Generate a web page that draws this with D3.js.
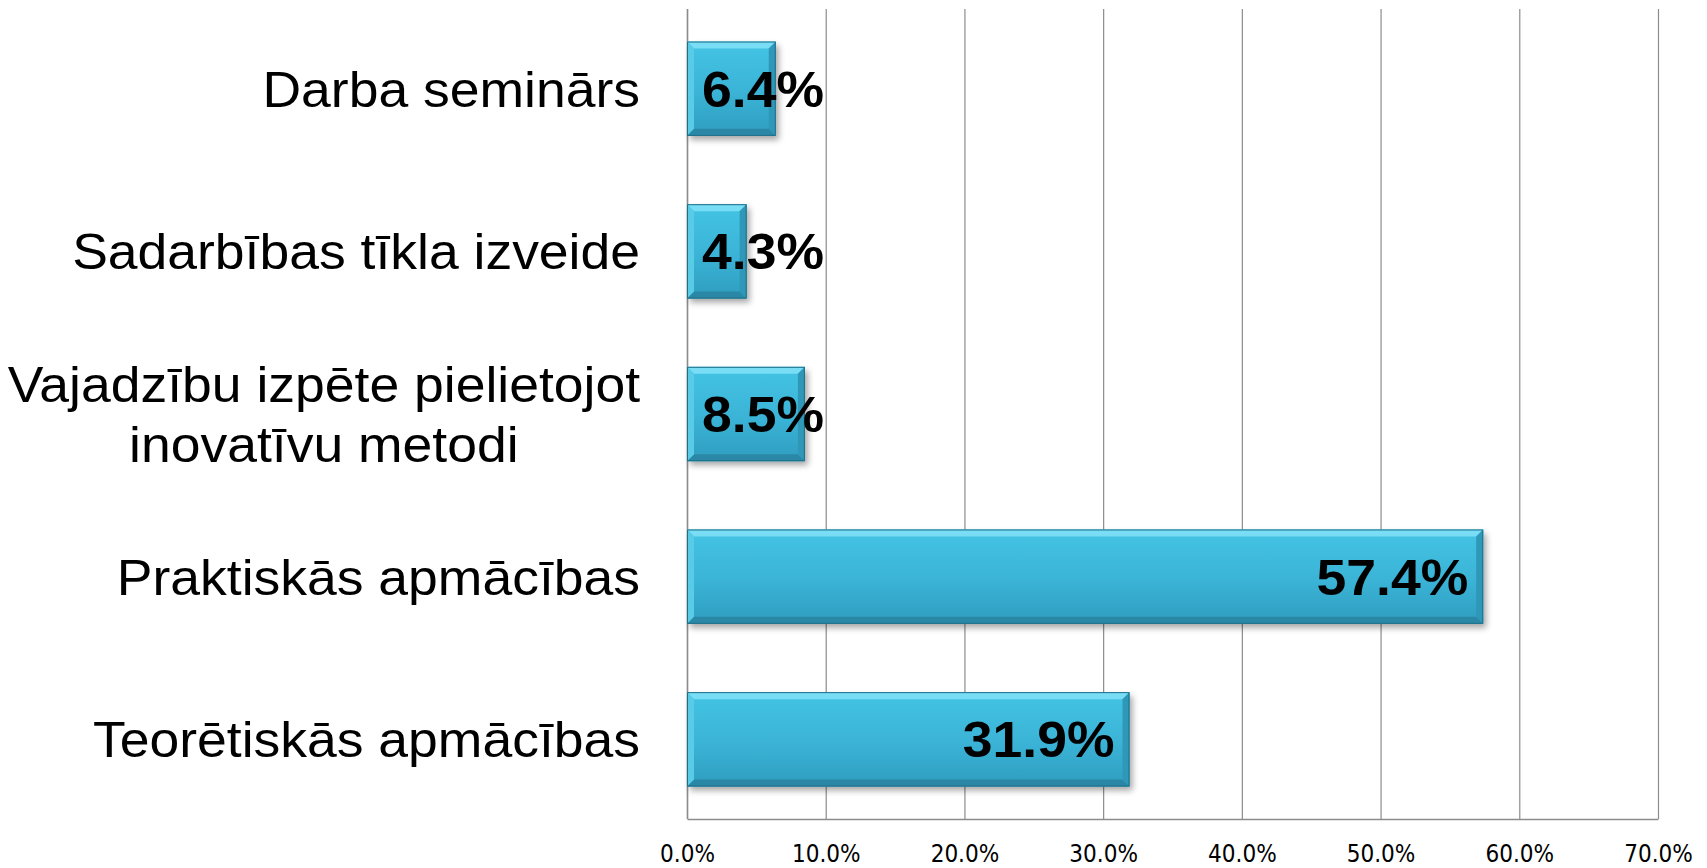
<!DOCTYPE html>
<html>
<head>
<meta charset="utf-8">
<script src="https://cdn.jsdelivr.net/npm/d3@7"></script>
<style>
	html, body { margin: 0; padding: 0; background: #fff; }
	svg { display: block; }
</style>
</head>
<body>
<div id="chart"></div>
<script>
	// data, top to bottom
	const categories = [
		['Darba seminārs'],
		['Sadarbības tīkla izveide'],
		['Vajadzību izpēte pielietojot', 'inovatīvu metodi'],
		['Praktiskās apmācības'],
		['Teorētiskās apmācības'],
	];
	const values = [6.4, 4.3, 8.5, 57.4, 31.9];
	const tickValues = [0, 10, 20, 30, 40, 50, 60, 70];

	const width = 1707;
	const height = 868;
	const margin = { top: 9, right: 49, bottom: 49, left: 687 };
	const innerW = width - margin.left - margin.right;
	const innerH = height - margin.top - margin.bottom;

	const svg = d3.select('#chart').append('svg')
		.attr('width', width)
		.attr('height', height);

	const defs = svg.append('defs');
	const grad = defs.append('linearGradient')
		.attr('id', 'barGrad')
		.attr('x1', 0).attr('y1', 0).attr('x2', 0).attr('y2', 1);
	grad.append('stop').attr('offset', '0%').attr('stop-color', '#44c4e4');
	grad.append('stop').attr('offset', '55%').attr('stop-color', '#3ab3d6');
	grad.append('stop').attr('offset', '100%').attr('stop-color', '#2f9dbf');

	const shadow = defs.append('filter')
		.attr('id', 'shadow')
		.attr('x', '-10%').attr('y', '-20%')
		.attr('width', '130%').attr('height', '160%');
	shadow.append('feGaussianBlur').attr('in', 'SourceAlpha').attr('stdDeviation', 3);
	shadow.append('feOffset').attr('dx', 3).attr('dy', 4).attr('result', 'blur');
	shadow.append('feComponentTransfer').append('feFuncA').attr('type', 'linear').attr('slope', 0.35);
	const merge = shadow.append('feMerge');
	merge.append('feMergeNode');
	merge.append('feMergeNode').attr('in', 'SourceGraphic');

	const chart = svg.append('g')
		.attr('transform', `translate(${margin.left}, ${margin.top})`);

	// scales
	const x = d3.scaleLinear()
		.domain([0, 70])
		.range([0, innerW]);
	const y = d3.scaleBand()
		.domain(d3.range(values.length))
		.range([0, innerH])
		.paddingInner(0.42)
		.paddingOuter(0.2);

	// gridlines
	chart.append('g')
		.selectAll('line')
		.data(tickValues)
		.enter().append('line')
			.attr('x1', d => x(d) + 0.5)
			.attr('x2', d => x(d) + 0.5)
			.attr('y1', 0)
			.attr('y2', innerH)
			.style('stroke', '#8c8c8c')
			.style('stroke-width', 1.2);

	// bottom axis
	const xAxis = chart.append('g')
		.attr('transform', `translate(0, ${innerH})`)
		.call(d3.axisBottom(x)
			.tickValues(tickValues)
			.tickSize(0)
			.tickPadding(26)
			.tickFormat(d => d.toFixed(1) + '%'));
	xAxis.select('.domain').style('stroke', '#8c8c8c').style('stroke-width', 1.5);
	xAxis.selectAll('text')
		.style('font-family', '"Liberation Sans Narrow", "DejaVu Sans Condensed", Arial, sans-serif')
		.style('font-size', '24px')
		.style('fill', '#000');

	// left axis line
	chart.append('line')
		.attr('x1', 0.5).attr('x2', 0.5)
		.attr('y1', 0).attr('y2', innerH)
		.style('stroke', '#8c8c8c')
		.style('stroke-width', 1.5);

	// bars
	const bev = 7;
	const h = y.bandwidth();
	const bar = chart.append('g')
		.selectAll('g')
		.data(values)
		.enter().append('g')
			.attr('transform', (d, i) => `translate(0, ${y(i)})`);

	bar.append('rect')
		.attr('x', 0)
		.attr('y', 0)
		.attr('width', d => x(d))
		.attr('height', h)
		.style('fill', 'url(#barGrad)')
		.style('filter', 'url(#shadow)');
	// bevels
	bar.append('path') // top
		.attr('d', d => `M0,0 L${x(d)},0 L${x(d) - bev},${bev} L${bev},${bev} Z`)
		.style('fill', '#7ee0f6')
		.style('opacity', 0.9);
	bar.append('path') // bottom
		.attr('d', d => `M0,${h} L${x(d)},${h} L${x(d) - bev},${h - bev} L${bev},${h - bev} Z`)
		.style('fill', '#2a88a6');
	bar.append('path') // left
		.attr('d', `M0,0 L${bev},${bev} L${bev},${h - bev} L0,${h} Z`)
		.style('fill', '#5acbe6');
	bar.append('path') // right
		.attr('d', d => `M${x(d)},0 L${x(d) - bev},${bev} L${x(d) - bev},${h - bev} L${x(d)},${h} Z`)
		.style('fill', '#2f97b7');
	bar.append('rect')
		.attr('x', 0.5)
		.attr('y', 0.5)
		.attr('width', d => x(d) - 1)
		.attr('height', h - 1)
		.style('fill', 'none')
		.style('stroke', '#1f6f88')
		.style('stroke-width', 1);

	// value labels (slightly stretched, like the original)
	const valStretch = 1.07;
	const valueG = bar.append('g');
	const valueText = valueG.append('text')
		.attr('dy', '0.36em')
		.attr('text-anchor', 'end')
		.style('font-family', '"Liberation Sans", Arial, sans-serif')
		.style('font-weight', 'bold')
		.style('font-size', '50px')
		.style('fill', '#000')
		.text(d => d.toFixed(1) + '%');
	valueG.attr('transform', function(d) {
		const w = this.querySelector('text').getComputedTextLength() * valStretch;
		const right = Math.max(x(d) - 15, 15 + w);
		return `translate(${right}, ${h / 2}) scale(${valStretch}, 1)`;
	});

	// category labels
	const labelRight = -47;
	const lineH = 60;
	const catStretch = 1.07;
	categories.forEach((lines, i) => {
		const g = chart.append('g')
			.attr('transform', `translate(${labelRight}, ${y(i) + h / 2}) scale(${catStretch}, 1)`);
		const t = g.append('text')
			.style('font-family', '"Liberation Sans", Arial, sans-serif')
			.style('font-size', '50px')
			.style('fill', '#000')
			.attr('text-anchor', 'middle');
		lines.forEach((s, j) => {
			t.append('tspan')
				.attr('x', 0)
				.attr('y', (j - (lines.length - 1) / 2) * lineH)
				.attr('dy', '0.36em')
				.text(s);
		});
		const maxW = d3.max(t.selectAll('tspan').nodes(), n => n.getComputedTextLength());
		t.selectAll('tspan').attr('x', -maxW / 2);
	});
</script>
</body>
</html>
